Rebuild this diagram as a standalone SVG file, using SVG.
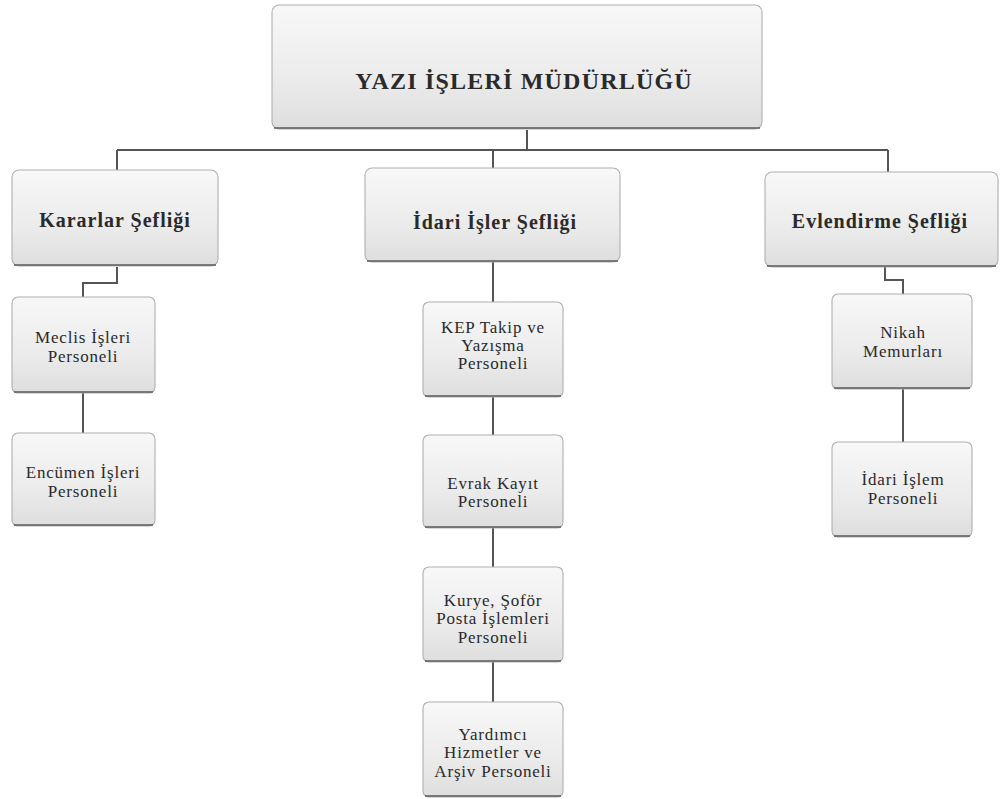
<svg xmlns="http://www.w3.org/2000/svg" width="1000" height="799" viewBox="0 0 1000 799">
<defs>
<linearGradient id="g" x1="0" y1="0" x2="0" y2="1">
<stop offset="0" stop-color="#f8f8f8"/>
<stop offset="0.6" stop-color="#ebebeb"/>
<stop offset="1" stop-color="#dedede"/>
</linearGradient>
</defs>
<style>
.box{fill:url(#g);stroke:#b0b0b0;stroke-width:1.1}
.sh{fill:none;stroke:#5a5a5a;stroke-width:1.6}
.con{fill:none;stroke:#555;stroke-width:2}
text{font-family:"Liberation Serif","Times New Roman",serif;fill:#2a2a2a;text-anchor:middle}
.t{font-size:24px;font-weight:bold;letter-spacing:1.2px}
.h{font-size:20px;font-weight:bold;letter-spacing:1px}
.s{font-size:17px;letter-spacing:0.8px}
</style>
<rect width="1000" height="799" fill="#fff"/>
<g id="connectors">
<path class="con" d="M527,130 V150 M117,150 H888 M117,150 V170 M493,150 V168 M888,150 V172"/>
<path class="con" d="M117,267 V283 H83 V297"/>
<path class="con" d="M83,393 V433"/>
<path class="con" d="M493,262 V302 M493,397 V435 M493,528 V567 M493,662 V702"/>
<path class="con" d="M885,267 V280 H903 V294"/>
<path class="con" d="M903,389 V442"/>
</g>
<g id="n-mudurluk">
<rect class="box" x="272" y="5" width="490" height="124" rx="7"/>
<path class="sh" d="M274,128 H760"/>
<text class="t" x="524" y="89">YAZI İŞLERİ MÜDÜRLÜĞÜ</text>
</g>
<g id="n-kararlar">
<rect class="box" x="12" y="170" width="206" height="96" rx="7"/>
<path class="sh" d="M14,265 H216"/>
<text class="h" x="115" y="227">Kararlar Şefliği</text>
</g>
<g id="n-idari">
<rect class="box" x="365" y="168" width="255" height="94" rx="7"/>
<path class="sh" d="M367,261 H618"/>
<text class="h" x="495" y="229">İdari İşler Şefliği</text>
</g>
<g id="n-evlendirme">
<rect class="box" x="765" y="172" width="233" height="95" rx="7"/>
<path class="sh" d="M767,266 H996"/>
<text class="h" x="880" y="228">Evlendirme Şefliği</text>
</g>
<g id="n-meclis">
<rect class="box" x="12" y="297" width="143" height="96" rx="6"/>
<path class="sh" d="M14,392 H153"/>
<text class="s" x="83" y="343">Meclis İşleri</text>
<text class="s" x="83" y="362">Personeli</text>
</g>
<g id="n-encumen">
<rect class="box" x="12" y="433" width="143" height="93" rx="6"/>
<path class="sh" d="M14,525 H153"/>
<text class="s" x="83" y="478">Encümen İşleri</text>
<text class="s" x="83" y="497">Personeli</text>
</g>
<g id="n-kep">
<rect class="box" x="423" y="302" width="140" height="95" rx="6"/>
<path class="sh" d="M425,396 H561"/>
<text class="s" x="493" y="333">KEP Takip  ve</text>
<text class="s" x="493" y="351">Yazışma</text>
<text class="s" x="493" y="369">Personeli</text>
</g>
<g id="n-evrak">
<rect class="box" x="423" y="435" width="140" height="93" rx="6"/>
<path class="sh" d="M425,527 H561"/>
<text class="s" x="493" y="489">Evrak Kayıt</text>
<text class="s" x="493" y="507">Personeli</text>
</g>
<g id="n-kurye">
<rect class="box" x="423" y="567" width="140" height="95" rx="6"/>
<path class="sh" d="M425,661 H561"/>
<text class="s" x="493" y="606">Kurye, Şoför</text>
<text class="s" x="493" y="624">Posta İşlemleri</text>
<text class="s" x="493" y="643">Personeli</text>
</g>
<g id="n-yardimci">
<rect class="box" x="423" y="702" width="140" height="95" rx="6"/>
<path class="sh" d="M425,796 H561"/>
<text class="s" x="493" y="740">Yardımcı</text>
<text class="s" x="493" y="758">Hizmetler ve</text>
<text class="s" x="493" y="777">Arşiv Personeli</text>
</g>
<g id="n-nikah">
<rect class="box" x="832" y="294" width="140" height="95" rx="6"/>
<path class="sh" d="M834,388 H970"/>
<text class="s" x="903" y="338">Nikah</text>
<text class="s" x="903" y="357">Memurları</text>
</g>
<g id="n-idari-islem">
<rect class="box" x="832" y="442" width="140" height="95" rx="6"/>
<path class="sh" d="M834,536 H970"/>
<text class="s" x="903" y="485">İdari İşlem</text>
<text class="s" x="903" y="504">Personeli</text>
</g>
</svg>
